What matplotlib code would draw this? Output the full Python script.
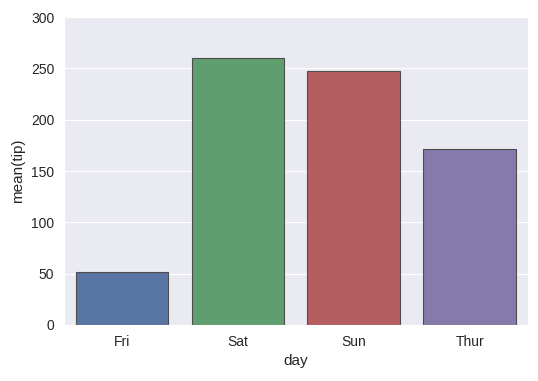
import matplotlib
matplotlib.use("Agg")
import matplotlib.pyplot as plt
import seaborn as sns

# tips totals by day
days = ["Fri", "Sat", "Sun", "Thur"]
tip_totals = [51.96, 260.40, 247.39, 171.83]
base_colors = ["#4C72B0", "#55A868", "#C44E52", "#8172B2"]

sns.set_style("darkgrid")
plt.rcParams["font.family"] = ["Liberation Sans", "DejaVu Sans"]

fig = plt.figure(figsize=(5.38, 3.81), dpi=100)
ax = fig.add_axes([0.119, 0.147, 0.862, 0.808])

colors = [sns.desaturate(c, 0.75) for c in base_colors]
ax.bar(range(len(days)), tip_totals, width=0.8, color=colors,
       edgecolor=".3", linewidth=0.8)
ax.set_xticks(range(len(days)))
ax.set_xticklabels(days)
ax.set_xlim(-0.5, len(days) - 0.5)
ax.set_ylim(0, 300)
ax.tick_params(labelsize=10, colors=".15")
ax.set_xlabel("day", fontsize=11, color=".15")
ax.set_ylabel("mean(tip)", fontsize=11, color=".15")
ax.grid(axis="x", visible=False)

fig.savefig("out.png", dpi=100)
